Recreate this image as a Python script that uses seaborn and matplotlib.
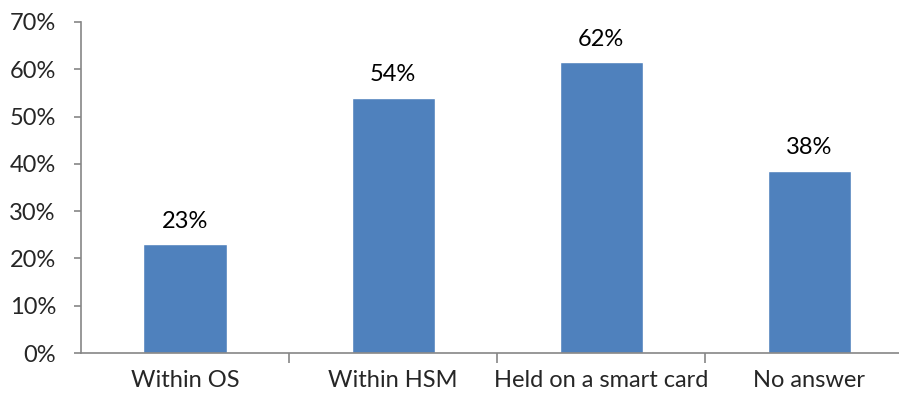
import matplotlib
matplotlib.use("Agg")
import matplotlib.pyplot as plt
import seaborn as sns
import pandas as pd
from matplotlib.ticker import FixedLocator, PercentFormatter

# chart data
categories = ["Within OS", "Within HSM", "Held on a smart card", "No answer"]
shares = [0.23, 0.54, 0.615, 0.385]
bar_labels = ["23%", "54%", "62%", "38%"]

df = pd.DataFrame({"category": categories, "share": shares})

sns.set_style("white")
plt.rcParams["font.family"] = ["Lato", "DejaVu Sans"]

fig = plt.figure(figsize=(8.99, 3.98), dpi=100)
ax = fig.add_axes([0.090, 0.113, 0.910, 0.832])

sns.barplot(data=df, x="category", y="share", color="#4F81BD",
            saturation=1, width=0.4, ax=ax)

ax.bar_label(ax.containers[0], labels=bar_labels, padding=9, fontsize=17,
             color="#000000")

ax.set_ylim(0, 0.70)
ax.set_xlim(-0.5, 3.43)
ax.yaxis.set_major_locator(FixedLocator([i / 10 for i in range(8)]))
ax.yaxis.set_major_formatter(PercentFormatter(1.0, decimals=0))

# tick marks between categories, labels centred
ax.xaxis.set_minor_locator(FixedLocator([0.5, 1.5, 2.5]))
ax.tick_params(axis="x", which="major", length=0, pad=12, labelsize=17)
ax.tick_params(axis="x", which="minor", length=7, width=1.2, color="#868686",
               direction="out", bottom=True)
ax.tick_params(axis="y", which="major", length=5, width=1.2, color="#868686",
               direction="out", left=True, pad=13, labelsize=17)

for side in ["top", "right"]:
    ax.spines[side].set_visible(False)
for side in ["left", "bottom"]:
    ax.spines[side].set_color("#868686")
    ax.spines[side].set_linewidth(1.2)

ax.set_xlabel("")
ax.set_ylabel("")

fig.savefig("out.png", dpi=100)
